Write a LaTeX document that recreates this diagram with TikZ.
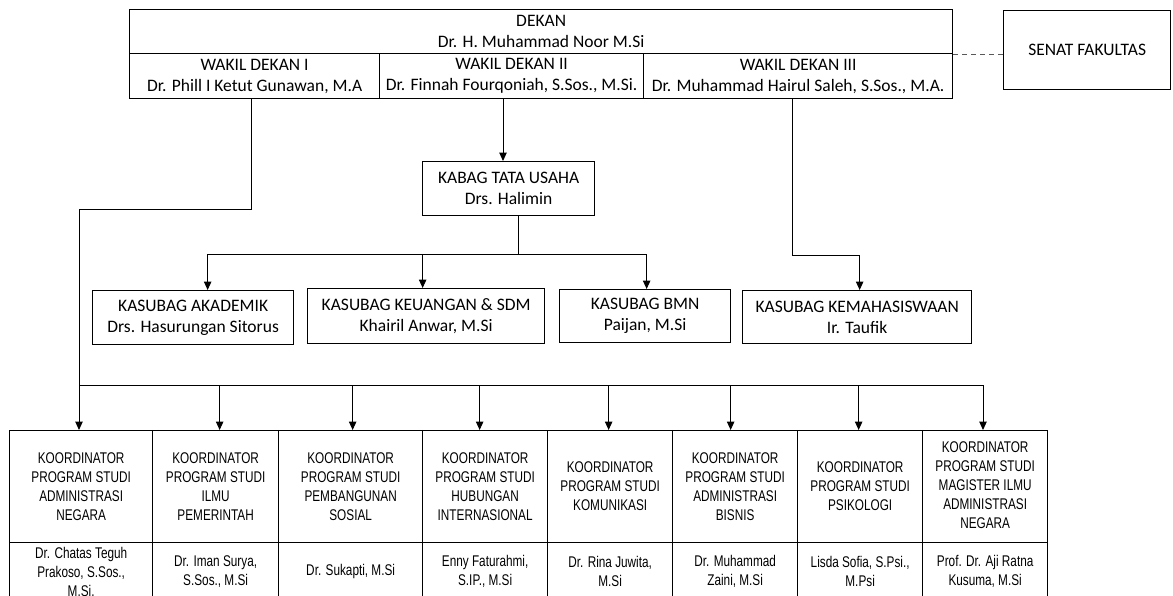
\documentclass[tikz,border=0pt]{standalone}
\usepackage{fontspec}
\setmainfont{Carlito}
\newfontfamily\narrowfont[FakeStretch=0.76]{Liberation Sans}
\usetikzlibrary{arrows.meta}
\begin{document}
\begin{tikzpicture}[x=1pt,y=-1pt,
  box/.style={draw, line width=1.3pt, inner sep=0pt, align=center, anchor=north west,
    font=\fontsize{17.5}{21}\selectfont},
  prodi/.style={draw, line width=1.3pt, inner sep=0pt, align=center, anchor=north west,
    font=\narrowfont\fontsize{15.5}{19}\selectfont},
  conn/.style={line width=1pt},
  arr/.style={conn, -{Triangle[width=7.5pt,length=8.5pt]}}]
\useasboundingbox (0,0) rectangle (1173,595);
\clip (0,0) rectangle (1173,595);

% top block
\node[box, minimum width=823pt, minimum height=44pt] (dekan) at (129,9) {DEKAN\\Dr. H. Muhammad Noor M.Si};
\node[box, minimum width=250pt, minimum height=45pt] (wd1) at (129,53) {WAKIL DEKAN I\\Dr. Phill I Ketut Gunawan, M.A};
\node[box, minimum width=264pt, minimum height=45pt] (wd2) at (379,53) {WAKIL DEKAN II\\Dr. Finnah Fourqoniah, S.Sos., M.Si.};
\node[box, minimum width=309pt, minimum height=45pt] (wd3) at (643,53) {WAKIL DEKAN III\\Dr. Muhammad Hairul Saleh, S.Sos., M.A.};
\node[box, minimum width=167pt, minimum height=79pt] (senat) at (1003,10) {SENAT FAKULTAS};

% middle
\node[box, minimum width=172pt, minimum height=54pt] (kabag) at (422,161) {KABAG TATA USAHA\\Drs. Halimin};
\node[box, minimum width=201pt, minimum height=54pt] (akad) at (92,290) {KASUBAG AKADEMIK\\Drs. Hasurungan Sitorus};
\node[box, minimum width=237pt, minimum height=55pt] (keu) at (307,288) {KASUBAG KEUANGAN \& SDM\\Khairil Anwar, M.Si};
\node[box, minimum width=171pt, minimum height=53pt] (bmn) at (559,289) {KASUBAG BMN\\Paijan, M.Si};
\node[box, minimum width=229pt, minimum height=53pt] (kema) at (742,290) {KASUBAG KEMAHASISWAAN\\Ir. Taufik};

% bottom
\node[prodi, minimum width=143pt, minimum height=112pt] (p1) at (9,430) {KOORDINATOR\\PROGRAM STUDI\\ADMINISTRASI\\NEGARA};
\node[prodi, minimum width=126pt, minimum height=112pt] (p2) at (152,430) {KOORDINATOR\\PROGRAM STUDI\\ILMU\\PEMERINTAH};
\node[prodi, minimum width=144pt, minimum height=112pt] (p3) at (278,430) {KOORDINATOR\\PROGRAM STUDI\\PEMBANGUNAN\\SOSIAL};
\node[prodi, minimum width=125pt, minimum height=112pt] (p4) at (422,430) {KOORDINATOR\\PROGRAM STUDI\\HUBUNGAN\\INTERNASIONAL};
\node[prodi, minimum width=125pt, minimum height=112pt] (p5) at (547,430) {KOORDINATOR\\PROGRAM STUDI\\KOMUNIKASI};
\node[prodi, minimum width=125pt, minimum height=112pt] (p6) at (672,430) {KOORDINATOR\\PROGRAM STUDI\\ADMINISTRASI\\BISNIS};
\node[prodi, minimum width=125pt, minimum height=112pt] (p7) at (797,430) {KOORDINATOR\\PROGRAM STUDI\\PSIKOLOGI};
\node[prodi, minimum width=125pt, minimum height=112pt] (p8) at (922,430) {\raisebox{6pt}{\begin{tabular}{@{}c@{}}KOORDINATOR\\PROGRAM STUDI\\MAGISTER ILMU\\ADMINISTRASI\\NEGARA\end{tabular}}};

\node[prodi, minimum width=143pt, minimum height=58pt] (n1) at (9,542) {Dr. Chatas Teguh\\Prakoso, S.Sos.,\\M.Si.};
\node[prodi, minimum width=126pt, minimum height=58pt] (n2) at (152,542) {Dr. Iman Surya,\\S.Sos., M.Si};
\node[prodi, minimum width=144pt, minimum height=58pt] (n3) at (278,542) {Dr. Sukapti, M.Si};
\node[prodi, minimum width=125pt, minimum height=58pt] (n4) at (422,542) {Enny Faturahmi,\\S.IP., M.Si};
\node[prodi, minimum width=125pt, minimum height=58pt] (n5) at (547,542) {Dr. Rina Juwita,\\M.Si};
\node[prodi, minimum width=125pt, minimum height=58pt] (n6) at (672,542) {Dr. Muhammad\\Zaini, M.Si};
\node[prodi, minimum width=125pt, minimum height=58pt] (n7) at (797,542) {Lisda Sofia, S.Psi.,\\M.Psi};
\node[prodi, minimum width=125pt, minimum height=58pt] (n8) at (922,542) {Prof. Dr. Aji Ratna\\Kusuma, M.Si};

% helper coordinates
\coordinate (x2) at (503,0);
\coordinate (kb) at (518,254);
\coordinate (c1) at (79,209);
\coordinate (b1) at (79,385);
\coordinate (b8) at (983,385);

% connectors
\draw[conn, dash pattern=on 5pt off 4pt, gray!70!black] (dekan.south east) -- (dekan.south east -| senat.west);
\draw[arr] (wd2.south -| x2) -- (kabag.north -| x2);
\draw[conn] (kabag.south -| kb) -- (kb);
\draw[arr] (kb) -| ([xshift=14.5pt]akad.north);
\draw[arr] (kb) -| ([xshift=-3.5pt]keu.north);
\draw[arr] (kb) -| ([xshift=1.5pt]bmn.north);
\draw[arr] ([xshift=-5.5pt]wd3.south) -- ++(0,156) -| ([xshift=2.5pt]kema.north);
\draw[conn] ([xshift=-3pt]wd1.south) |- (c1) -- (b1);
\draw[conn] (b1) -- (b8);
\draw[arr] (b1) -- (p1.north -| b1);
\draw[arr] ([xshift=4pt,yshift=45pt]p2.north) -- ([xshift=4pt]p2.north);
\draw[arr] ([xshift=2pt,yshift=45pt]p3.north) -- ([xshift=2pt]p3.north);
\draw[arr] ([xshift=-5.5pt,yshift=45pt]p4.north) -- ([xshift=-5.5pt]p4.north);
\draw[arr] ([xshift=-1.5pt,yshift=45pt]p5.north) -- ([xshift=-1.5pt]p5.north);
\draw[arr] ([xshift=-4.5pt,yshift=45pt]p6.north) -- ([xshift=-4.5pt]p6.north);
\draw[arr] ([xshift=-1.5pt,yshift=45pt]p7.north) -- ([xshift=-1.5pt]p7.north);
\draw[arr] (b8) -- (p8.north -| b8);
\end{tikzpicture}
\end{document}
